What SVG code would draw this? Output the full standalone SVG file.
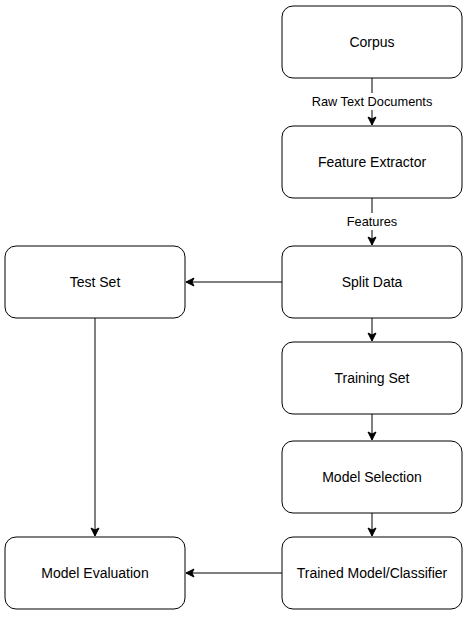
<svg xmlns="http://www.w3.org/2000/svg" width="469" height="618" viewBox="0 0 469 618">
<defs>
<style>
.box{fill:#ffffff;stroke:#000000;stroke-width:1}
.lbl{font-family:"Liberation Sans",Arial,sans-serif;font-size:14px;fill:#000000;text-anchor:middle;dominant-baseline:central}
.elbl{font-family:"Liberation Sans",Arial,sans-serif;font-size:12.8px;fill:#000000;text-anchor:middle;dominant-baseline:central}
.edge{fill:none;stroke:#000000;stroke-width:1}
</style>
<marker id="arr" markerWidth="10" markerHeight="10" viewBox="-9 -5 10 10" refX="0" refY="0" orient="auto" markerUnits="userSpaceOnUse">
<path d="M0,0 L-8,-4 L-6,0 L-8,4 Z" fill="#000000" stroke="#000000" stroke-width="1"/>
</marker>
</defs>
<rect width="469" height="618" fill="#ffffff"/>
<g id="connectors">
<path class="edge" d="M372,78 L372,125" marker-end="url(#arr)"/>
<path class="edge" d="M372,198 L372,245" marker-end="url(#arr)"/>
<path class="edge" d="M282,282 L186,282" marker-end="url(#arr)"/>
<path class="edge" d="M372,318 L372,341" marker-end="url(#arr)"/>
<path class="edge" d="M372,414 L372,440" marker-end="url(#arr)"/>
<path class="edge" d="M372,513 L372,536" marker-end="url(#arr)"/>
<path class="edge" d="M95,318 L95,536" marker-end="url(#arr)"/>
<path class="edge" d="M282,573 L186,573" marker-end="url(#arr)"/>
<g id="edge-labels">
<rect x="308" y="93" width="128" height="17" fill="#ffffff"/>
<text class="elbl" x="372" y="101.5">Raw Text Documents</text>
<rect x="342" y="213" width="60" height="17" fill="#ffffff"/>
<text class="elbl" x="372" y="221.5">Features</text>
</g>
</g>
<g id="corpus"><rect class="box" x="282" y="6" width="180" height="72" rx="11" ry="11"/><text class="lbl" x="372" y="42">Corpus</text></g>
<g id="feature-extractor"><rect class="box" x="282" y="126" width="180" height="72" rx="11" ry="11"/><text class="lbl" x="372" y="162">Feature Extractor</text></g>
<g id="split-data"><rect class="box" x="282" y="246" width="180" height="72" rx="11" ry="11"/><text class="lbl" x="372" y="282">Split Data</text></g>
<g id="test-set"><rect class="box" x="5" y="246" width="180" height="72" rx="11" ry="11"/><text class="lbl" x="95" y="282">Test Set</text></g>
<g id="training-set"><rect class="box" x="282" y="342" width="180" height="72" rx="11" ry="11"/><text class="lbl" x="372" y="378">Training Set</text></g>
<g id="model-selection"><rect class="box" x="282" y="441" width="180" height="72" rx="11" ry="11"/><text class="lbl" x="372" y="477">Model Selection</text></g>
<g id="trained-model"><rect class="box" x="282" y="537" width="180" height="72" rx="11" ry="11"/><text class="lbl" x="372" y="573">Trained Model/Classifier</text></g>
<g id="model-evaluation"><rect class="box" x="5" y="537" width="180" height="72" rx="11" ry="11"/><text class="lbl" x="95" y="573">Model Evaluation</text></g>
</svg>
